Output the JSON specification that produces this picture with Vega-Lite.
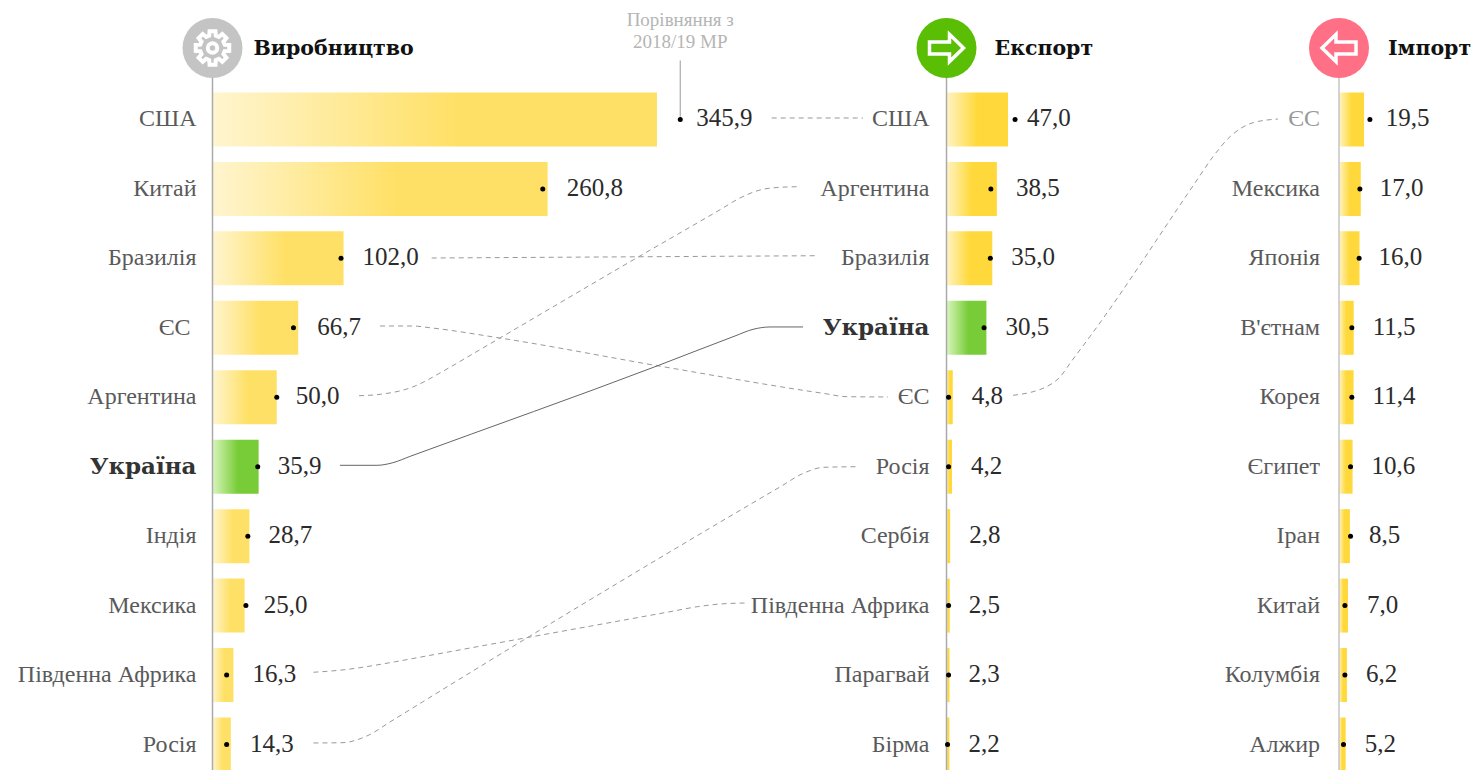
{"$schema":"https://vega.github.io/schema/vega-lite/v6.json","width":1480,"height":770,"autosize":{"type":"none"},"padding":0,"background":"white","view":{"stroke":null},"config":{"axis":{"disable":true}},
"datasets":{
"prod":[{"rank":1,"name":"США","value":345.9,"dot":364,"h":false},{"rank":2,"name":"Китай","value":260.8,"dot":257,"h":false},{"rank":3,"name":"Бразилія","value":102.0,"dot":100,"h":false},{"rank":4,"name":"ЄС","value":66.7,"dot":63,"h":false},{"rank":5,"name":"Аргентина","value":50.0,"dot":50,"h":false},{"rank":6,"name":"Україна","value":35.9,"dot":35.2,"h":true},{"rank":7,"name":"Індія","value":28.7,"dot":27.5,"h":false},{"rank":8,"name":"Мексика","value":25.0,"dot":26,"h":false},{"rank":9,"name":"Південна Африка","value":16.3,"dot":11,"h":false},{"rank":10,"name":"Росія","value":14.3,"dot":11,"h":false}],
"exp":[{"rank":1,"name":"США","value":47.0,"dot":52.4,"h":false},{"rank":2,"name":"Аргентина","value":38.5,"dot":33.9,"h":false},{"rank":3,"name":"Бразилія","value":35.0,"dot":33.5,"h":false},{"rank":4,"name":"Україна","value":30.5,"dot":28.7,"h":true},{"rank":5,"name":"ЄС","value":4.8,"dot":1.6,"h":false},{"rank":6,"name":"Росія","value":4.2,"dot":1.6,"h":false},{"rank":7,"name":"Сербія","value":2.8,"dot":null,"h":false},{"rank":8,"name":"Південна Африка","value":2.5,"dot":1.6,"h":false},{"rank":9,"name":"Парагвай","value":2.3,"dot":1.6,"h":false},{"rank":10,"name":"Бірма","value":2.2,"dot":0.8,"h":false}],
"imp":[{"rank":1,"name":"ЄС","value":19.5,"dot":24.1},{"rank":2,"name":"Мексика","value":17.0,"dot":16.3},{"rank":3,"name":"Японія","value":16.0,"dot":15.7},{"rank":4,"name":"В'єтнам","value":11.5,"dot":10},{"rank":5,"name":"Корея","value":11.4,"dot":10},{"rank":6,"name":"Єгипет","value":10.6,"dot":9},{"rank":7,"name":"Іран","value":8.5,"dot":9},{"rank":8,"name":"Китай","value":7.0,"dot":4.6},{"rank":9,"name":"Колумбія","value":6.2,"dot":4.6},{"rank":10,"name":"Алжир","value":5.2,"dot":3.5}],
"links":[
{"link":"США","along":52.14,"rank":0.979},{"link":"США","along":58.31,"rank":0.979},
{"link":"Бразилія","along":29.17,"rank":2.995},{"link":"Бразилія","along":55.27,"rank":2.962},
{"link":"Аргентина","along":24.26,"rank":4.978},{"link":"Аргентина","along":25.68,"rank":4.958},{"link":"Аргентина","along":27.70,"rank":4.867},{"link":"Аргентина","along":30.20,"rank":4.593},{"link":"Аргентина","along":31.76,"rank":4.399},{"link":"Аргентина","along":33.78,"rank":4.147},{"link":"Аргентина","along":43.24,"rank":2.966},{"link":"Аргентина","along":48.65,"rank":2.300},{"link":"Аргентина","along":50.0,"rank":2.131},{"link":"Аргентина","along":51.35,"rank":2.016},{"link":"Аргентина","along":52.70,"rank":1.977},{"link":"Аргентина","along":54.05,"rank":1.968},
{"link":"ЄС","along":25.68,"rank":3.974},{"link":"ЄС","along":27.91,"rank":3.974},{"link":"ЄС","along":29.05,"rank":3.999},{"link":"ЄС","along":33.78,"rank":4.147},{"link":"ЄС","along":44.80,"rank":4.560},{"link":"ЄС","along":55.61,"rank":4.943},{"link":"ЄС","along":57.23,"rank":4.992},{"link":"ЄС","along":60.0,"rank":4.996},
{"link":"Росія","along":21.18,"rank":9.978},{"link":"Росія","along":23.11,"rank":9.974},{"link":"Росія","along":24.93,"rank":9.863},{"link":"Росія","along":26.35,"rank":9.676},{"link":"Росія","along":35.74,"rank":8.448},{"link":"Росія","along":52.70,"rank":6.292},{"link":"Росія","along":54.32,"rank":6.091},{"link":"Росія","along":55.64,"rank":6.009},{"link":"Росія","along":57.97,"rank":6.0},
{"link":"ПА","along":21.18,"rank":8.960},{"link":"ПА","along":23.11,"rank":8.927},{"link":"ПА","along":26.72,"rank":8.808},{"link":"ПА","along":28.38,"rank":8.743},{"link":"ПА","along":35.74,"rank":8.456},{"link":"ПА","along":45.27,"rank":8.088},{"link":"ПА","along":47.12,"rank":8.016},{"link":"ПА","along":48.65,"rank":7.977},{"link":"ПА","along":50.34,"rank":7.963},
{"link":"ЄС імпорт","along":68.45,"rank":4.972},{"link":"ЄС імпорт","along":69.80,"rank":4.920},{"link":"ЄС імпорт","along":70.60,"rank":4.860},{"link":"ЄС імпорт","along":71.62,"rank":4.708},{"link":"ЄС імпорт","along":72.41,"rank":4.478},{"link":"ЄС імпорт","along":73.65,"rank":4.125},{"link":"ЄС імпорт","along":80.74,"rank":1.915},{"link":"ЄС імпорт","along":81.96,"rank":1.536},{"link":"ЄС імпорт","along":83.11,"rank":1.248},{"link":"ЄС імпорт","along":84.66,"rank":1.047},{"link":"ЄС імпорт","along":86.35,"rank":0.994}],
"ualink":[{"along":22.97,"rank":5.980},{"along":25.47,"rank":5.980},{"along":26.55,"rank":5.942},{"along":27.70,"rank":5.852},{"along":44.39,"rank":4.550},{"along":49.66,"rank":4.118},{"along":50.88,"rank":4.022},{"along":52.03,"rank":3.988},{"along":54.26,"rank":3.988}]
},
"encoding":{"y":{"field":"rank","type":"quantitative","axis":null,"scale":{"domain":[0,11],"range":[50,813.95],"nice":false,"zero":false,"padding":0}}},
"resolve":{"scale":{"x":"independent"}},
"layer":[
{"layer":[
{"data":{"name":"links"},"mark":{"type":"line","interpolate":"monotone","color":"#999999","strokeWidth":1,"strokeDash":[5,4]},"encoding":{"x":{"field":"along","type":"quantitative","scale":{"domain":[0,100],"range":[0,1480],"nice":false,"zero":false}},"detail":{"field":"link"},"order":{"field":"along"}}},
{"data":{"name":"ualink"},"mark":{"type":"line","interpolate":"monotone","color":"#666666","strokeWidth":1},"encoding":{"x":{"field":"along","type":"quantitative","scale":{"domain":[0,100],"range":[0,1480],"nice":false,"zero":false}},"order":{"field":"along"}}}
]},
{"data":{"name":"prod"},"transform":[{"calculate":"replace(format(datum.value,'.1f'),'.',',')","as":"label"},{"calculate":"max(datum.value,datum.dot-2.3)","as":"end"}],
"layer":[
{"transform":[{"filter":"!datum.h"}],"mark":{"type":"bar","orient":"horizontal","height":54,"fill":{"gradient":"linear","x1":0,"x2":1,"y1":0,"y2":0,"stops":[{"offset":0,"color":"#FFF5CF"},{"offset":0.55,"color":"#FFE066"},{"offset":1,"color":"#FFE066"}]}},"encoding":{"x":{"field":"value","type":"quantitative","scale":{"domain":[0,345.9],"range":[212.5,657],"nice":false,"zero":false,"padding":0}}}},
{"transform":[{"filter":"datum.h"}],"mark":{"type":"bar","orient":"horizontal","height":54,"fill":{"gradient":"linear","x1":0,"x2":1,"y1":0,"y2":0,"stops":[{"offset":0,"color":"#D8F6BC"},{"offset":0.55,"color":"#78CC38"},{"offset":1,"color":"#78CC38"}]}},"encoding":{"x":{"field":"value","type":"quantitative"}}},
{"data":{"values":[{"rank":0,"end":11}]},"mark":{"type":"rule","color":"#aaaaaa","strokeWidth":1.5},"encoding":{"x":{"datum":0,"type":"quantitative"},"y2":{"field":"end"}}},
{"data":{"values":[{"rank":0.15,"end":0.96}]},"mark":{"type":"rule","color":"#aaaaaa","strokeWidth":1.2},"encoding":{"x":{"datum":364,"type":"quantitative"},"y2":{"field":"end"}}},
{"data":{"values":[{"rank":-0.432,"note":"Порівняння з"},{"rank":-0.115,"note":"2018/19 МР"}]},"mark":{"type":"text","font":"Liberation Serif","fontSize":19,"color":"#b5b5b5","align":"center","baseline":"middle"},"encoding":{"x":{"datum":364,"type":"quantitative"},"text":{"field":"note"}}},
{"transform":[{"filter":"!datum.h && datum.name!='ЄС'"}],"mark":{"type":"text","font":"Liberation Serif","fontSize":24,"color":"#5a5a5a","align":"right","baseline":"middle","dx":-16},"encoding":{"x":{"datum":0,"type":"quantitative"},"text":{"field":"name"}}},
{"transform":[{"filter":"datum.name=='ЄС'"}],"mark":{"type":"text","font":"Liberation Serif","fontSize":24,"color":"#5a5a5a","align":"right","baseline":"middle","dx":-22},"encoding":{"x":{"datum":0,"type":"quantitative"},"text":{"field":"name"}}},
{"transform":[{"filter":"datum.h"}],"mark":{"type":"text","font":"DejaVu Serif","fontWeight":"bold","fontSize":23,"color":"#333333","align":"right","baseline":"middle","dx":-16},"encoding":{"x":{"datum":0,"type":"quantitative"},"text":{"field":"name"}}},
{"mark":{"type":"text","font":"Liberation Serif","fontSize":25,"color":"#2b2b2b","align":"left","baseline":"middle","dx":19,"dy":-1},"encoding":{"x":{"field":"end","type":"quantitative"},"text":{"field":"label"}}},
{"mark":{"type":"point","filled":true,"color":"black","size":25,"opacity":1},"encoding":{"x":{"field":"dot","type":"quantitative"}}},
{"data":{"values":[{"rank":-0.03}]},"mark":{"type":"point","shape":"circle","filled":true,"color":"#C4C4C4","size":3600,"opacity":1},"encoding":{"x":{"datum":0,"type":"quantitative"}}},
{"data":{"values":[{"rank":-0.03}]},"mark":{"type":"point","shape":"M0.609,-0.163L0.837,-0.148L0.837,0.148L0.609,0.163L0.546,0.315L0.696,0.487L0.487,0.696L0.315,0.546L0.163,0.609L0.148,0.837L-0.148,0.837L-0.163,0.609L-0.315,0.546L-0.487,0.696L-0.696,0.487L-0.546,0.315L-0.609,0.163L-0.837,0.148L-0.837,-0.148L-0.609,-0.163L-0.546,-0.315L-0.696,-0.487L-0.487,-0.696L-0.315,-0.546L-0.163,-0.609L-0.148,-0.837L0.148,-0.837L0.163,-0.609L0.315,-0.546L0.487,-0.696L0.696,-0.487L0.546,-0.315Z","filled":false,"stroke":"white","strokeWidth":4,"size":1600,"opacity":1},"encoding":{"x":{"datum":0,"type":"quantitative"}}},
{"data":{"values":[{"rank":-0.03}]},"mark":{"type":"point","shape":"circle","filled":false,"stroke":"white","strokeWidth":4,"size":90,"opacity":1},"encoding":{"x":{"datum":0,"type":"quantitative"}}},
{"data":{"values":[{"rank":-0.03,"title":"Виробництво"}]},"mark":{"type":"text","font":"DejaVu Serif","fontWeight":"bold","fontSize":20.5,"color":"#111111","align":"left","baseline":"middle","dx":41,"dy":1},"encoding":{"x":{"datum":0,"type":"quantitative"},"text":{"field":"title"}}}
]},
{"data":{"name":"exp"},"transform":[{"calculate":"replace(format(datum.value,'.1f'),'.',',')","as":"label"},{"calculate":"max(datum.value,datum.dot-6)","as":"end"}],
"layer":[
{"transform":[{"filter":"!datum.h"}],"mark":{"type":"bar","orient":"horizontal","height":54,"fill":{"gradient":"linear","x1":0,"x2":1,"y1":0,"y2":0,"stops":[{"offset":0,"color":"#FFF3C4"},{"offset":0.5,"color":"#FFD93B"},{"offset":1,"color":"#FFD93B"}]}},"encoding":{"x":{"field":"value","type":"quantitative","scale":{"domain":[0,47],"range":[946.5,1008],"nice":false,"zero":false,"padding":0}}}},
{"transform":[{"filter":"datum.h"}],"mark":{"type":"bar","orient":"horizontal","height":54,"fill":{"gradient":"linear","x1":0,"x2":1,"y1":0,"y2":0,"stops":[{"offset":0,"color":"#D8F6BC"},{"offset":0.55,"color":"#78CC38"},{"offset":1,"color":"#78CC38"}]}},"encoding":{"x":{"field":"value","type":"quantitative"}}},
{"data":{"values":[{"rank":0,"end":11}]},"mark":{"type":"rule","color":"#aaaaaa","strokeWidth":1.5},"encoding":{"x":{"datum":0,"type":"quantitative"},"y2":{"field":"end"}}},
{"transform":[{"filter":"!datum.h"}],"mark":{"type":"text","font":"Liberation Serif","fontSize":24,"color":"#5a5a5a","align":"right","baseline":"middle","dx":-17},"encoding":{"x":{"datum":0,"type":"quantitative"},"text":{"field":"name"}}},
{"transform":[{"filter":"datum.h"}],"mark":{"type":"text","font":"DejaVu Serif","fontWeight":"bold","fontSize":23,"color":"#333333","align":"right","baseline":"middle","dx":-17},"encoding":{"x":{"datum":0,"type":"quantitative"},"text":{"field":"name"}}},
{"mark":{"type":"text","font":"Liberation Serif","fontSize":25,"color":"#2b2b2b","align":"left","baseline":"middle","dx":19,"dy":-1},"encoding":{"x":{"field":"end","type":"quantitative"},"text":{"field":"label"}}},
{"mark":{"type":"point","filled":true,"color":"black","size":25,"opacity":1},"encoding":{"x":{"field":"dot","type":"quantitative"}}},
{"data":{"values":[{"rank":-0.03}]},"mark":{"type":"point","shape":"circle","filled":true,"color":"#5ABE05","size":3600,"opacity":1},"encoding":{"x":{"datum":0,"type":"quantitative"}}},
{"data":{"values":[{"rank":-0.03}]},"mark":{"type":"point","shape":"M-0.85,-0.3L0.15,-0.3L0.15,-0.68L0.85,0L0.15,0.68L0.15,0.3L-0.85,0.3Z","filled":false,"stroke":"white","strokeWidth":3.5,"size":1600,"opacity":1},"encoding":{"x":{"datum":0,"type":"quantitative"}}},
{"data":{"values":[{"rank":-0.03,"title":"Експорт"}]},"mark":{"type":"text","font":"DejaVu Serif","fontWeight":"bold","fontSize":20.5,"color":"#111111","align":"left","baseline":"middle","dx":48,"dy":1},"encoding":{"x":{"datum":0,"type":"quantitative"},"text":{"field":"title"}}}
]},
{"data":{"name":"imp"},"transform":[{"calculate":"replace(format(datum.value,'.1f'),'.',',')","as":"label"},{"calculate":"max(datum.value,datum.dot-2.4)","as":"end"}],
"layer":[
{"mark":{"type":"bar","orient":"horizontal","height":54,"fill":{"gradient":"linear","x1":0,"x2":1,"y1":0,"y2":0,"stops":[{"offset":0,"color":"#FFF3C4"},{"offset":0.5,"color":"#FFD93B"},{"offset":1,"color":"#FFD93B"}]}},"encoding":{"x":{"field":"value","type":"quantitative","scale":{"domain":[0,19.5],"range":[1339,1364],"nice":false,"zero":false,"padding":0}}}},
{"data":{"values":[{"rank":0,"end":11}]},"mark":{"type":"rule","color":"#c4c4c4","strokeWidth":1.5},"encoding":{"x":{"datum":0,"type":"quantitative"},"y2":{"field":"end"}}},
{"mark":{"type":"text","font":"Liberation Serif","fontSize":24,"align":"right","baseline":"middle","dx":-19},"encoding":{"x":{"datum":0,"type":"quantitative"},"text":{"field":"name"},"color":{"condition":{"test":"datum.name=='ЄС'","value":"#999999"},"value":"#5a5a5a"}}},
{"mark":{"type":"text","font":"Liberation Serif","fontSize":25,"color":"#2b2b2b","align":"left","baseline":"middle","dx":19,"dy":-1},"encoding":{"x":{"field":"end","type":"quantitative"},"text":{"field":"label"}}},
{"mark":{"type":"point","filled":true,"color":"black","size":25,"opacity":1},"encoding":{"x":{"field":"dot","type":"quantitative"}}},
{"data":{"values":[{"rank":-0.03}]},"mark":{"type":"point","shape":"circle","filled":true,"color":"#FF6F85","size":3600,"opacity":1},"encoding":{"x":{"datum":0,"type":"quantitative"}}},
{"data":{"values":[{"rank":-0.03}]},"mark":{"type":"point","shape":"M0.85,-0.3L-0.15,-0.3L-0.15,-0.68L-0.85,0L-0.15,0.68L-0.15,0.3L0.85,0.3Z","filled":false,"stroke":"white","strokeWidth":3.5,"size":1600,"opacity":1},"encoding":{"x":{"datum":0,"type":"quantitative"}}},
{"data":{"values":[{"rank":-0.03,"title":"Імпорт"}]},"mark":{"type":"text","font":"DejaVu Serif","fontWeight":"bold","fontSize":20.5,"color":"#111111","align":"left","baseline":"middle","dx":49,"dy":1},"encoding":{"x":{"datum":0,"type":"quantitative"},"text":{"field":"title"}}}
]}
]}
